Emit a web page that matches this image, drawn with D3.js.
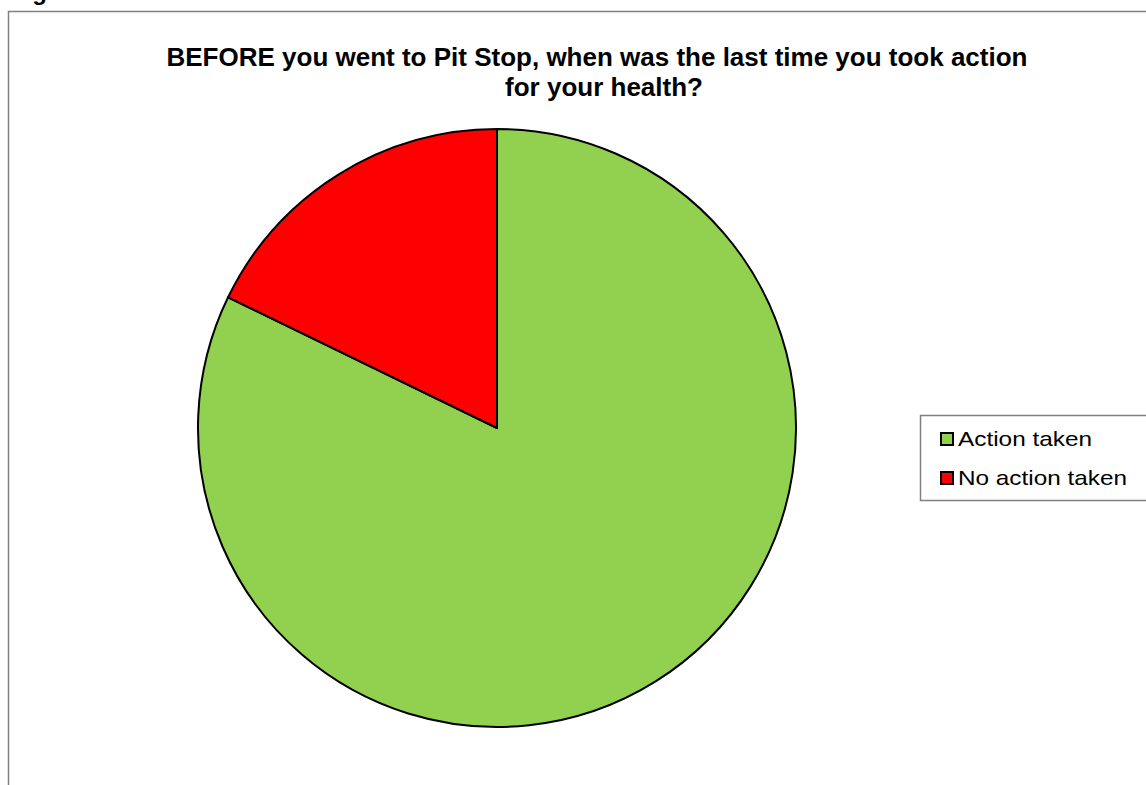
<!DOCTYPE html>
<html><head><meta charset="utf-8">
<script src="https://cdn.jsdelivr.net/npm/d3@7"></script>
<style>body{margin:0;background:#fff}svg{display:block}</style>
</head><body>
<svg id="c" width="1146" height="785"></svg>
<script>
const categories = ["Action taken", "No action taken"];
const values = [82.2, 17.8];
const colors = ["#92d050", "#ff0000"];
const titleLines = ["BEFORE you went to Pit Stop, when was the last time you took action", "for your health?"];
const headingText = "Figure";

const svg = d3.select("#c");
const font = "'Liberation Sans', Arial, sans-serif";

// heading above the chart (cut off by the top edge in the reference)
svg.append("text").attr("x", 11).attr("y", -0.5).attr("font-family", font).attr("font-weight", "bold")
  .attr("font-size", 24).attr("fill", "#000").text(headingText);

// chart border
svg.append("rect").attr("x", 8.5).attr("y", 11.5).attr("width", 1150).attr("height", 800)
  .attr("fill", "none").attr("stroke", "#7f7f7f").attr("stroke-width", 1.5);

// title
const titleX = [597, 604];
const t = svg.append("text").attr("font-family", font).attr("font-weight", "bold").attr("font-size", 26)
  .attr("text-anchor", "middle").attr("fill", "#000");
titleLines.forEach((l, i) => t.append("tspan").attr("x", titleX[i]).attr("y", 66 + i * 30).text(l));

// pie
const cx = 497, cy = 428, r = 299;
const pie = d3.pie().sort(null).value(d => d)(values);
const arc = d3.arc().innerRadius(0).outerRadius(r);
const g = svg.append("g").attr("transform", `translate(${cx},${cy})`);
g.selectAll("path").data(pie).join("path").attr("d", arc)
  .attr("fill", (d, i) => colors[i]).attr("stroke", "#000").attr("stroke-width", 2).attr("stroke-linejoin", "round");

// legend
svg.append("rect").attr("x", 920.5).attr("y", 415.5).attr("width", 240).attr("height", 85)
  .attr("fill", "#fff").attr("stroke", "#7f7f7f").attr("stroke-width", 1.5);
const legendTextWidths = [134, 169];
const lg = svg.append("g");
categories.forEach((c, i) => {
  const y = 439 + i * 39;
  lg.append("rect").attr("x", 941).attr("y", y - 6).attr("width", 12).attr("height", 12)
    .attr("fill", colors[i]).attr("stroke", "#000").attr("stroke-width", 2);
  lg.append("text").attr("x", 958).attr("y", y + 7).attr("font-family", font).attr("font-size", 21)
    .attr("textLength", legendTextWidths[i]).attr("lengthAdjust", "spacingAndGlyphs")
    .attr("fill", "#000").text(c);
});
</script>
</body></html>
